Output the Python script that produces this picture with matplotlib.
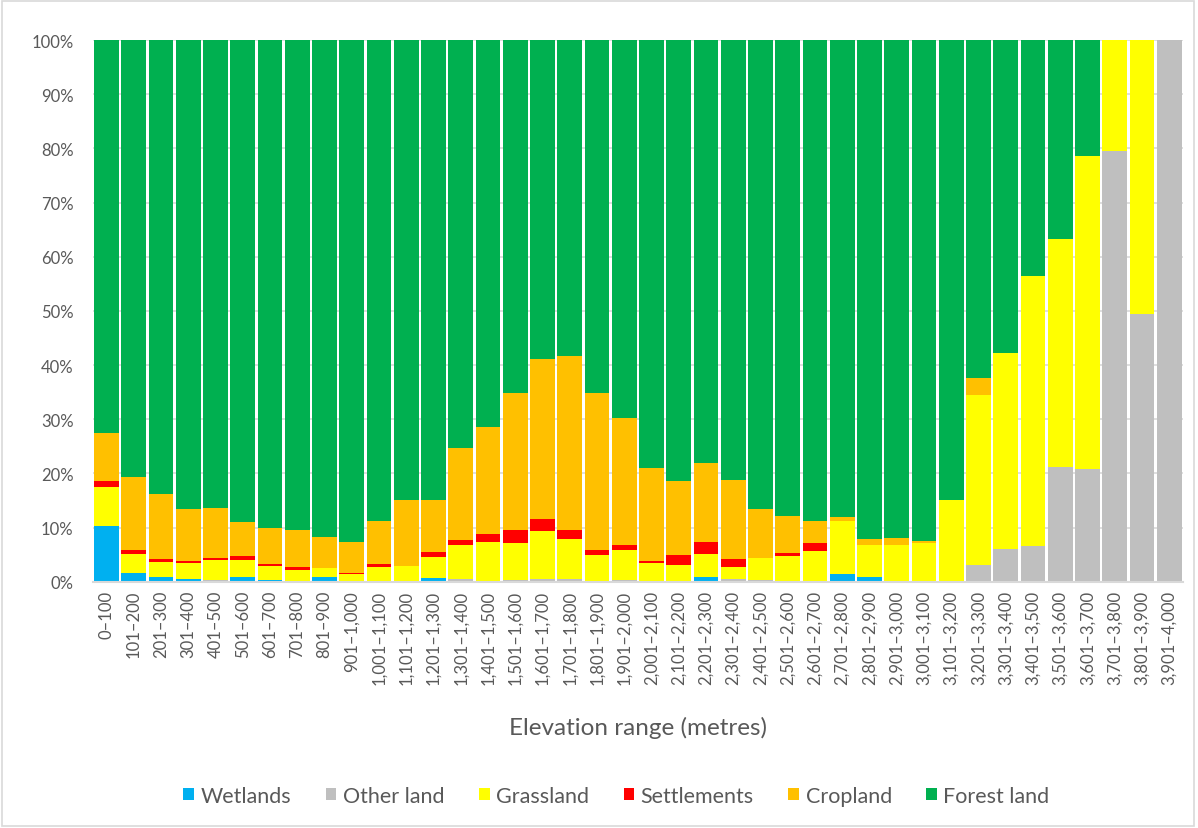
import matplotlib.pyplot as plt
import numpy as np
from matplotlib.patches import Rectangle

plt.rcParams['font.family'] = ['Lato', 'DejaVu Sans']

# elevation bands (metres)
categories = ['0–100', '101–200', '201–300', '301–400', '401–500', '501–600',
              '601–700', '701–800', '801–900', '901–1,000', '1,001–1,100',
              '1,101–1,200', '1,201–1,300', '1,301–1,400', '1,401–1,500',
              '1,501–1,600', '1,601–1,700', '1,701–1,800', '1,801–1,900',
              '1,901–2,000', '2,001–2,100', '2,101–2,200', '2,201–2,300',
              '2,301–2,400', '2,401–2,500', '2,501–2,600', '2,601–2,700',
              '2,701–2,800', '2,801–2,900', '2,901–3,000', '3,001–3,100',
              '3,101–3,200', '3,201–3,300', '3,301–3,400', '3,401–3,500',
              '3,501–3,600', '3,601–3,700', '3,701–3,800', '3,801–3,900',
              '3,901–4,000']

# share of each land use in the band (%)
wetlands = [10.3, 1.6, 0.9, 0.5, 0, 0.9, 0.3, 0, 0.9, 0, 0, 0, 0.6, 0, 0, 0, 0, 0, 0, 0,
            0, 0, 0.9, 0, 0, 0, 0, 1.4, 0.9, 0, 0, 0, 0, 0, 0, 0, 0, 0, 0, 0]
other_land = [0, 0, 0, 0, 0.3, 0, 0, 0, 0, 0, 0, 0, 0, 0.5, 0, 0.3, 0.5, 0.5, 0, 0.3,
              0, 0, 0, 0.5, 0.3, 0, 0, 0, 0, 0, 0, 0, 3.1, 6.0, 6.6, 21.2, 20.8, 79.6, 49.4, 100]
grassland = [7.2, 3.5, 2.7, 3.0, 3.7, 3.1, 2.6, 2.2, 1.6, 1.4, 2.7, 2.9, 4.0, 6.3, 7.3, 6.9,
             8.9, 7.4, 4.9, 5.6, 3.5, 3.1, 4.2, 2.2, 4.1, 4.8, 5.7, 9.8, 5.9, 6.8, 7.1, 15.0,
             31.4, 36.2, 49.9, 42.1, 57.7, 20.4, 50.6, 0]
settlements = [1.0, 0.8, 0.6, 0.3, 0.4, 0.8, 0.4, 0.5, 0, 0.2, 0.6, 0, 0.9, 0.9, 1.5, 2.4,
               2.2, 1.7, 1.0, 0.9, 0.3, 1.8, 2.2, 1.5, 0, 0.5, 1.5, 0, 0, 0, 0, 0,
               0, 0, 0, 0, 0, 0, 0, 0]
cropland = [9.0, 13.5, 12.0, 9.7, 9.2, 6.2, 6.6, 6.9, 5.8, 5.7, 7.9, 12.2, 9.6, 16.9, 19.8, 25.2,
            29.6, 32.0, 28.9, 23.5, 17.1, 13.6, 14.7, 14.6, 9.1, 6.9, 4.0, 0.8, 1.1, 1.3, 0.4, 0,
            3.1, 0, 0, 0, 0, 0, 0, 0]
forest_land = [72.5, 80.6, 83.8, 86.5, 86.4, 89.0, 90.1, 90.4, 91.7, 92.7, 88.8, 84.9, 84.9, 75.4,
               71.4, 65.2, 58.8, 58.4, 65.2, 69.7, 79.1, 81.5, 78.0, 81.2, 86.5, 87.8, 88.8, 88.0,
               92.1, 91.9, 92.5, 85.0, 62.4, 57.8, 43.5, 36.7, 21.5, 0, 0, 0]

series = [('Wetlands', wetlands, '#00B0F0'),
          ('Other land', other_land, '#BFBFBF'),
          ('Grassland', grassland, '#FFFF00'),
          ('Settlements', settlements, '#FF0000'),
          ('Cropland', cropland, '#FFC000'),
          ('Forest land', forest_land, '#00B050')]

txt = '#595959'

fig = plt.figure(figsize=(11.98, 8.29), dpi=100)
ax = fig.add_axes([0.0776, 0.2971, 0.9098, 0.6534])

x = np.arange(len(categories))
bottom = np.zeros(len(categories))
for name, vals, col in series:
    ax.bar(x, vals, 0.91, bottom=bottom, color=col, label=name, zorder=2)
    bottom += np.array(vals)

ax.set_xlim(-0.5, len(categories) - 0.5)
ax.set_ylim(0, 100)
ax.set_yticks(range(0, 101, 10))
ax.set_yticklabels([f'{v}%' for v in range(0, 101, 10)], fontsize=12, color=txt)
ax.set_xticks(x)
ax.set_xticklabels(categories, rotation=90, fontsize=12, color=txt)
ax.tick_params(axis='both', length=0)
ax.tick_params(axis='y', pad=14)
ax.tick_params(axis='x', pad=6)

ax.yaxis.grid(True, color='#D9D9D9', lw=1.2, zorder=0)
ax.set_axisbelow(True)
for s in ['top', 'left', 'right']:
    ax.spines[s].set_visible(False)
ax.spines['bottom'].set_color('#D9D9D9')
ax.spines['bottom'].set_linewidth(1.5)

fig.text(0.5326, 0.122, 'Elevation range (metres)', ha='center', va='center',
         fontsize=17.5, color=txt)

fig.legend(loc='center', bbox_to_anchor=(0.5146, 0.039), ncol=6, frameon=False,
           handlelength=0.5, handleheight=0.5, columnspacing=1.6, handletextpad=0.3,
           fontsize=15.5, labelcolor=txt)

# chart border
fig.patches.append(Rectangle((0.002, 0.003), 0.995, 0.994, transform=fig.transFigure,
                             fill=False, edgecolor='#D9D9D9', lw=1.2))

fig.savefig('out.png', dpi=100)
